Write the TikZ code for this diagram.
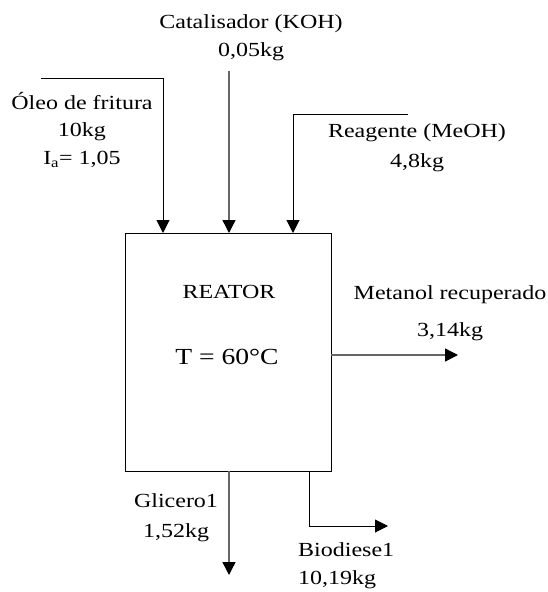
\documentclass[tikz,border=0pt]{standalone}
\usepackage{fontspec}
\setmainfont{Liberation Serif}[FakeStretch=1.2]
\usetikzlibrary{arrows.meta}
\begin{document}
\begin{tikzpicture}[x=1pt,y=-1pt,
  lbl/.style={inner sep=0pt,align=center,font=\fontsize{20}{29}\selectfont},
  flow/.style={line width=1pt,-{Triangle[length=13pt,width=13pt]}},
  gflow/.style={line width=1.4pt,draw=black!60,-{Triangle[length=13pt,width=13pt,color=black]}}]
\useasboundingbox (0,0) rectangle (548,592);
\node[draw,line width=1pt,minimum width=206pt,minimum height=238pt,inner sep=0pt,anchor=north west] (reator) at (125,233) {};
\node[lbl] (reatxt) at (229,292) {REATOR};
\node[lbl,font=\fontsize{23}{26}\selectfont] (temp) at (227,357) {T = 60\textdegree C};
% inputs
\coordinate (oleo0) at (41,78);
\coordinate (oleo1) at (163,78);
\coordinate (oleoin) at (163,233);
\draw[flow] (oleo0) -- (oleo1) -- (oleoin);
\node[lbl,font=\fontsize{20}{27.5}\selectfont] (oleotxt) at (82,130) {Óleo de fritura\\10kg\\I\textsubscript{a}= 1,05};
\coordinate (cat0) at (229,71);
\coordinate (catin) at (229,233);
\draw[gflow] (cat0) -- (catin);
\node[lbl,font=\fontsize{20}{28}\selectfont] (cattxt) at (251,38) {Catalisador (KOH)\\0,05kg};
\coordinate (rea0) at (408,114);
\coordinate (rea1) at (293,114);
\coordinate (reain) at (293,233);
\draw[flow] (rea0) -- (rea1) -- (reain);
\node[lbl,font=\fontsize{20}{30}\selectfont] (reatx) at (417,148) {Reagente (MeOH)\\4,8kg};
% outputs
\coordinate (met0) at (331,355);
\coordinate (met1) at (458,355);
\draw[gflow] (met0) -- (met1);
\node[lbl,font=\fontsize{20}{37}\selectfont] (mettxt) at (450,313) {Metanol recuperado\\3,14kg};
\coordinate (gli0) at (229,471);
\coordinate (gli1) at (229,575);
\draw[gflow] (gli0) -- (gli1);
\node[lbl,font=\fontsize{20}{30}\selectfont] (glitxt) at (176,518) {Glicero1\\1,52kg};
\coordinate (bio0) at (309,471);
\coordinate (bio1) at (309,526);
\coordinate (bio2) at (388,526);
\draw[flow] (bio0) -- (bio1) -- (bio2);
\node[lbl,align=left,anchor=west,font=\fontsize{20}{28}\selectfont] (biotxt) at (298,566) {Biodiese1\\10,19kg};
\end{tikzpicture}
\end{document}
